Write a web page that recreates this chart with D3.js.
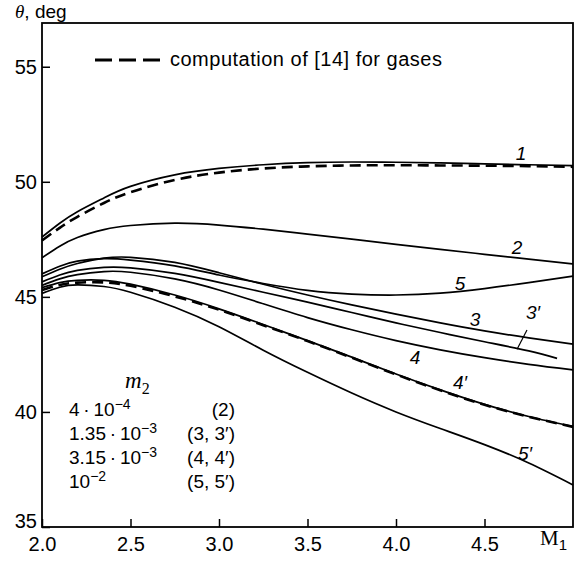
<!DOCTYPE html>
<meta charset="utf-8">
<style>
body { margin: 0; background: #fff; }
svg { display: block; font-family: "Liberation Sans", Arial, sans-serif; }
.curve { fill: none; stroke: #000; stroke-width: 1.7; }
.dash { fill: none; stroke: #000; stroke-width: 2.6; stroke-dasharray: 11,6; }
.tick text { font-size: 20px; fill: #000; }
.tick line { stroke: #000; stroke-width: 1.5; }
.lbl { font-size: 19px; font-style: italic; }
</style>
<svg width="581" height="562"></svg>
<script src="https://d3js.org/d3.v7.min.js"></script>
<script>

// M1 grid shared by most curves
var mach = [2.0, 2.1, 2.2, 2.35, 2.5, 2.75, 3.0, 3.25, 3.5, 3.75, 4.0, 4.25, 4.5, 4.75, 5.0];
var mach3p = [2.0, 2.1, 2.2, 2.35, 2.5, 2.75, 3.0, 3.25, 3.5, 3.75, 4.0, 4.25, 4.5, 4.75, 4.91];

// theta, deg
var th1  = [47.6, 48.2, 48.7, 49.3, 49.8, 50.3, 50.58, 50.74, 50.83, 50.86, 50.85, 50.82, 50.78, 50.74, 50.7];
var th1g = [47.45, 48.0, 48.48, 49.08, 49.55, 50.08, 50.4, 50.58, 50.67, 50.71, 50.72, 50.71, 50.7, 50.68, 50.65];
var th2  = [46.7, 47.2, 47.58, 47.92, 48.1, 48.2, 48.12, 47.94, 47.73, 47.51, 47.28, 47.06, 46.85, 46.64, 46.43];
var th3  = [45.87, 46.2, 46.45, 46.68, 46.72, 46.5, 46.05, 45.55, 45.08, 44.65, 44.25, 43.87, 43.52, 43.22, 42.95];
var th3p = [45.65, 45.95, 46.15, 46.28, 46.26, 46.02, 45.63, 45.2, 44.77, 44.32, 43.87, 43.45, 43.05, 42.65, 42.33];
var th4  = [45.5, 45.78, 45.97, 46.1, 46.07, 45.78, 45.3, 44.7, 44.1, 43.57, 43.1, 42.7, 42.36, 42.07, 41.83];
var th4p = [45.4, 45.62, 45.72, 45.72, 45.55, 45.08, 44.48, 43.8, 43.1, 42.38, 41.65, 40.96, 40.33, 39.8, 39.36];
var th4g = [45.3, 45.52, 45.62, 45.63, 45.48, 45.02, 44.44, 43.77, 43.08, 42.36, 41.63, 40.94, 40.31, 39.79, 39.35];
var th5  = [46.0, 46.33, 46.55, 46.66, 46.6, 46.35, 45.95, 45.58, 45.28, 45.12, 45.08, 45.16, 45.36, 45.62, 45.9];
var th5p = [45.15, 45.42, 45.52, 45.45, 45.2, 44.55, 43.7, 42.68, 41.72, 40.82, 40.0, 39.28, 38.58, 37.78, 36.83];

var labelText = ["1", "2", "5", "3", "3\u2032", "4", "4\u2032", "5\u2032"];
var labelM    = [4.706, 4.684, 4.362, 4.446, 4.774, 4.107, 4.362, 4.729];
var labelTh   = [51.26, 47.17, 45.61, 44.04, 44.35, 42.39, 41.30, 38.22];

var xTicks = [2.0, 2.5, 3.0, 3.5, 4.0, 4.5];
var yTicks = [35, 40, 45, 50, 55];

var m2Vals  = ["4\u2009\u00b7\u200910", "1.35\u2009\u00b7\u200910", "3.15\u2009\u00b7\u200910", "10"];
var m2Exps  = ["\u22124", "\u22123", "\u22123", "\u22122"];
var m2Refs  = ["(2)", "(3, 3\u2032)", "(4, 4\u2032)", "(5, 5\u2032)"];

var svg = d3.select("svg");

var x = d3.scaleLinear().domain([2, 5]).range([42, 573]);
var y = d3.scaleLinear().domain([35, 56.9]).range([527, 23]);

var line = d3.line()
    .x(function(d) { return x(d[0]); })
    .y(function(d) { return y(d[1]); })
    .curve(d3.curveNatural);

function pts(xs, ys) { return xs.map(function(v, i) { return [v, ys[i]]; }); }

var solids = [th1, th2, th3, th4, th4p, th5, th5p];
solids.forEach(function(s) {
  svg.append("path").attr("class", "curve").attr("d", line(pts(mach, s)));
});
svg.append("path").attr("class", "curve").attr("d", line(pts(mach3p, th3p)));

[th1g, th4g].forEach(function(s) {
  svg.append("path").attr("class", "dash").attr("d", line(pts(mach, s)));
});

// axes
var xAxis = d3.axisBottom(x).tickValues(xTicks).tickSizeInner(-8).tickSizeOuter(0)
    .tickPadding(10).tickFormat(d3.format(".1f"));
var yAxis = d3.axisLeft(y).tickValues(yTicks).tickSizeInner(-8).tickSizeOuter(0)
    .tickPadding(5).tickFormat(d3.format("d"));

var gx = svg.append("g").attr("transform", "translate(0,527)").call(xAxis);
var gy = svg.append("g").attr("transform", "translate(42,0)").call(yAxis);
gx.select(".domain").remove();
gy.select(".domain").remove();
gx.selectAll("text").attr("font-family", null).attr("font-size", null);
gy.selectAll("text").attr("font-family", null).attr("font-size", null);
gy.selectAll(".tick").filter(function(d) { return d === 35; }).select("text").attr("dy", "0.0em");

svg.append("rect")
    .attr("x", x(2)).attr("y", y(56.9))
    .attr("width", x(5) - x(2)).attr("height", y(35) - y(56.9))
    .attr("fill", "none").attr("stroke", "#000").attr("stroke-width", 1.8);

// axis titles
var tt = svg.append("text").attr("x", 15).attr("y", 18).attr("font-size", 19);
tt.append("tspan").attr("font-family", "'Liberation Serif', serif").attr("font-style", "italic").text("\u03b8");
tt.append("tspan").text(", deg");

var mt = svg.append("text").attr("x", 540).attr("y", 545);
mt.append("tspan").attr("font-family", "'Liberation Serif', serif").attr("font-size", 21).text("M");
mt.append("tspan").attr("font-size", 15).attr("dy", 5).text("1");

// curve labels
svg.selectAll(".lbl").data(labelText).enter().append("text")
    .attr("class", "lbl")
    .attr("x", function(d, i) { return x(labelM[i]); })
    .attr("y", function(d, i) { return y(labelTh[i]); })
    .attr("dy", "0.36em")
    .attr("text-anchor", "middle")
    .text(function(d) { return d; });

svg.append("line")
    .attr("x1", x(4.74)).attr("y1", y(43.56))
    .attr("x2", x(4.684)).attr("y2", y(42.72))
    .attr("stroke", "#000").attr("stroke-width", 1.2);

// legend for the dashed curves
svg.append("line")
    .attr("x1", 95).attr("x2", 160).attr("y1", 60).attr("y2", 60)
    .attr("stroke", "#000").attr("stroke-width", 3).attr("stroke-dasharray", "17,7");
svg.append("text").attr("x", 170).attr("y", 66).attr("font-size", 20)
    .attr("letter-spacing", 0.5)
    .text("computation of [14] for gases");

// m2 table
var mh = svg.append("text").attr("x", 125).attr("y", 388)
    .attr("font-family", "'Liberation Serif', serif").attr("font-size", 23);
mh.append("tspan").attr("font-style", "italic").text("m");
mh.append("tspan").attr("font-size", 16).attr("dy", 6).text("2");

m2Vals.forEach(function(v, i) {
  var t = svg.append("text").attr("x", 69).attr("y", 416 + i * 24).attr("font-size", 19);
  t.append("tspan").text(v);
  t.append("tspan").attr("font-size", 14).attr("dy", -7).text(m2Exps[i]);
  svg.append("text").attr("x", 235).attr("y", 416 + i * 24).attr("font-size", 19)
      .attr("text-anchor", "end").text(m2Refs[i]);
});

</script>
